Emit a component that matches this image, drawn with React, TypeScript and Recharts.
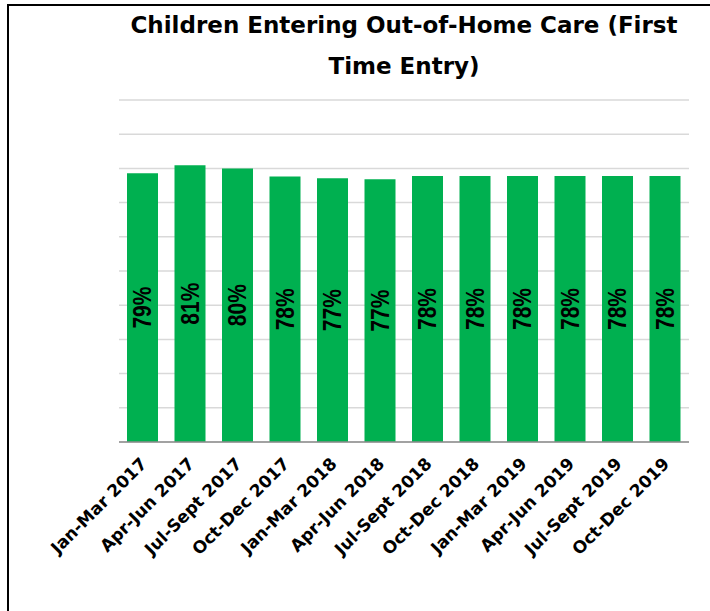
import { BarChart, Bar, XAxis, YAxis, CartesianGrid, LabelList } from 'recharts';

const quarters = [
  'Jan-Mar 2017',
  'Apr-Jun 2017',
  'Jul-Sept 2017',
  'Oct-Dec 2017',
  'Jan-Mar 2018',
  'Apr-Jun 2018',
  'Jul-Sept 2018',
  'Oct-Dec 2018',
  'Jan-Mar 2019',
  'Apr-Jun 2019',
  'Jul-Sept 2019',
  'Oct-Dec 2019',
];

// percent of children entering care for the first time
const firstTimeEntry = [78.6, 80.9, 80.0, 77.6, 77.1, 76.8, 77.8, 77.8, 77.8, 77.8, 77.8, 77.8];

const yTicks = [0, 10, 20, 30, 40, 50, 60, 70, 80, 90, 100];

const chartData = quarters.map((name, i) => ({ name, value: firstTimeEntry[i] }));

const GREEN = '#00b050';

function QuarterTick(props: any) {
  const { x, y, payload } = props;
  const px = x + 5;
  const py = y + 15;
  return (
    <text
      x={px}
      y={py}
      transform={`rotate(-45, ${px}, ${py})`}
      textAnchor="end"
      fontFamily="'DejaVu Sans', sans-serif"
      fontWeight="bold"
      fontSize={17}
      fill="#000"
    >
      {payload.value}
    </text>
  );
}

function PercentLabel(props: any) {
  const { x, y, width, height, value } = props;
  const cx = x + width / 2;
  const cy = y + height / 2;
  return (
    <text
      x={0}
      y={0}
      transform={`translate(${cx}, ${cy}) rotate(-90) scale(1, 1.2)`}
      textAnchor="middle"
      dominantBaseline="central"
      fontFamily="'Liberation Sans', Arial, sans-serif"
      fontWeight="bold"
      fontSize={21}
      fill="#000"
    >
      {Math.round(value)}%
    </text>
  );
}

export default function App() {
  return (
    <div style={{ position: 'absolute', left: 0, top: 0, width: 710, height: 611, background: '#fff' }}>
      <svg width={710} height={611} style={{ position: 'absolute', left: 0, top: 0 }}>
        <line x1={8} y1={5} x2={710} y2={5} stroke="#000" strokeWidth={2} />
        <line x1={8} y1={4} x2={8} y2={611} stroke="#000" strokeWidth={2} />
        <text
          x={404}
          y={33}
          textAnchor="middle"
          fontFamily="'DejaVu Sans', sans-serif"
          fontWeight="bold"
          fontSize={23}
          fill="#000"
        >
          Children Entering Out-of-Home Care (First
        </text>
        <text
          x={404}
          y={74}
          textAnchor="middle"
          fontFamily="'DejaVu Sans', sans-serif"
          fontWeight="bold"
          fontSize={23}
          fill="#000"
        >
          Time Entry)
        </text>
      </svg>
      <div style={{ position: 'absolute', left: 0, top: 0 }}>
        <BarChart
          width={710}
          height={611}
          data={chartData}
          margin={{ top: 100, left: 119, right: 21, bottom: 0 }}
        >
          <CartesianGrid vertical={false} stroke="#d9d9d9" strokeWidth={1.5} />
          <XAxis
            dataKey="name"
            interval={0}
            tickLine={false}
            axisLine={{ stroke: '#8c8c8c', strokeWidth: 1.5 }}
            tick={<QuarterTick />}
            height={169}
          />
          <YAxis
            domain={[0, 100]}
            ticks={yTicks}
            width={0}
            tickFormatter={() => ''}
            tickLine={false}
            axisLine={{ stroke: '#8c8c8c', strokeWidth: 1.5 }}
          />
          <Bar dataKey="value" fill={GREEN} barSize={31} isAnimationActive={false}>
            <LabelList dataKey="value" content={<PercentLabel />} />
          </Bar>
        </BarChart>
      </div>
    </div>
  );
}
